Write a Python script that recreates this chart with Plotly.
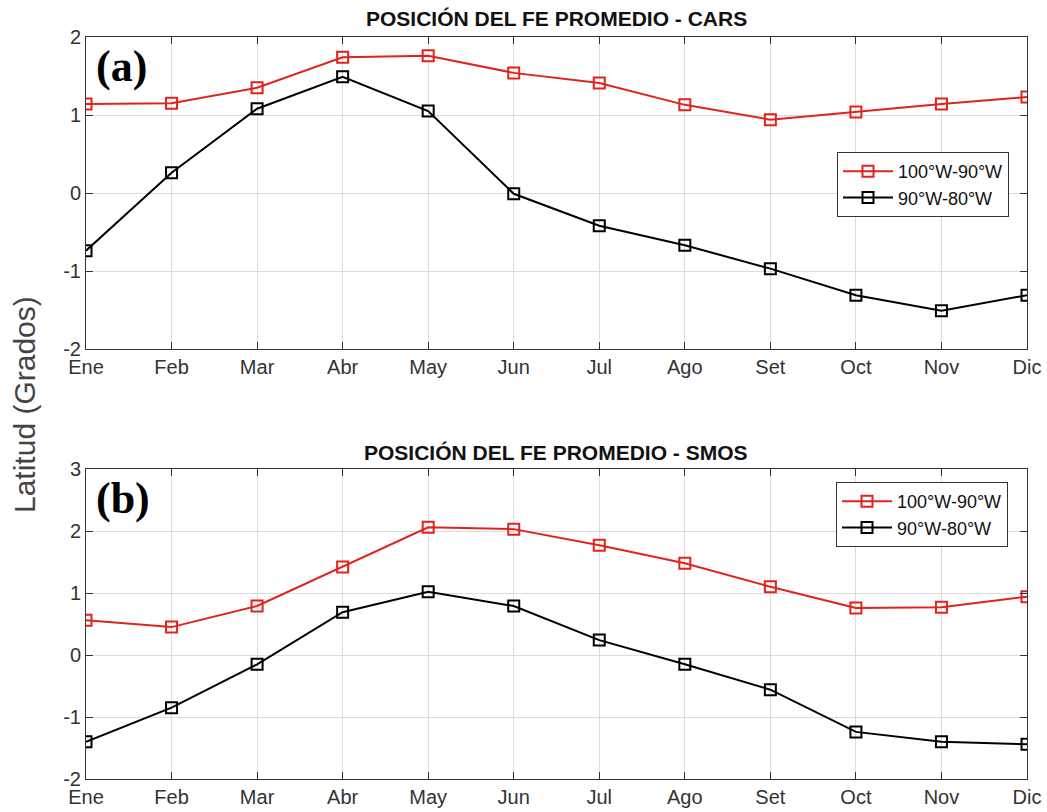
import plotly.graph_objects as go

# Meses y posiciones promedio del FE (grados de latitud)
meses = ["Ene", "Feb", "Mar", "Abr", "May", "Jun", "Jul", "Ago", "Set", "Oct", "Nov", "Dic"]

cars_100_90 = [1.14, 1.15, 1.35, 1.74, 1.76, 1.54, 1.41, 1.13, 0.94, 1.04, 1.14, 1.23]
cars_90_80 = [-0.74, 0.26, 1.08, 1.49, 1.05, -0.01, -0.42, -0.67, -0.97, -1.31, -1.51, -1.31]

smos_100_90 = [0.56, 0.45, 0.79, 1.42, 2.06, 2.03, 1.77, 1.48, 1.10, 0.76, 0.77, 0.94]
smos_90_80 = [-1.40, -0.85, -0.15, 0.69, 1.02, 0.79, 0.24, -0.15, -0.56, -1.24, -1.40, -1.44]

ticks_cars = [-2, -1, 0, 1, 2]
ticks_smos = [-2, -1, 0, 1, 2, 3]

ROJO = "#e0231c"
NEGRO = "#000000"
FUENTE = "Liberation Sans, Arial, sans-serif"

W, H = 1047, 812


def fx(v):
    return v / W


def fy(v):
    return 1 - v / H


fig = go.Figure()


def agregar(y, nombre, color, xa, ya, leyenda):
    fig.add_trace(go.Scatter(
        x=list(range(12)), y=y, name=nombre, mode="lines+markers",
        line=dict(color=color, width=2),
        marker=dict(symbol="square-open", size=11, color=color, line=dict(width=2)),
        xaxis=xa, yaxis=ya, legend=leyenda,
    ))


agregar(cars_100_90, "100°W-90°W", ROJO, "x", "y", "legend")
agregar(cars_90_80, "90°W-80°W", NEGRO, "x", "y", "legend")
agregar(smos_100_90, "100°W-90°W", ROJO, "x2", "y2", "legend2")
agregar(smos_90_80, "90°W-80°W", NEGRO, "x2", "y2", "legend2")

xdom = [fx(86), fx(1027)]

eje_x = dict(
    domain=xdom, range=[0, 11], tickmode="array", tickvals=list(range(12)), ticktext=meses,
    showgrid=True, gridcolor="#dcdcdc", gridwidth=1, zeroline=False,
    showline=True, linecolor="#333333", linewidth=1, mirror="allticks",
    ticks="inside", ticklen=7, tickcolor="#333333",
    tickfont=dict(family=FUENTE, size=20, color="#333333"), automargin=False,
)
eje_y = dict(
    showgrid=True, gridcolor="#dcdcdc", gridwidth=1, zeroline=False,
    showline=True, linecolor="#333333", linewidth=1, mirror="allticks",
    ticks="inside", ticklen=7, tickcolor="#333333", tickmode="array",
    tickfont=dict(family=FUENTE, size=20, color="#333333"), automargin=False,
)

leyenda = dict(
    xanchor="right", yanchor="top",
    bgcolor="white", bordercolor="#333333", borderwidth=1,
    font=dict(family=FUENTE, size=18, color="#111111"),
    itemwidth=50, tracegroupgap=0,
)

fig.update_layout(
    width=W, height=H,
    margin=dict(l=0, r=0, t=0, b=0),
    paper_bgcolor="white", plot_bgcolor="white",
    font=dict(family=FUENTE),
    xaxis=dict(eje_x, anchor="y"),
    yaxis=dict(eje_y, domain=[fy(349), fy(37)], range=[-2, 2], anchor="x",
               tickvals=ticks_cars, ticktext=[str(t) for t in ticks_cars]),
    xaxis2=dict(eje_x, anchor="y2"),
    yaxis2=dict(eje_y, domain=[fy(779), fy(469)], range=[-2, 3], anchor="x2",
                tickvals=ticks_smos, ticktext=[str(t) for t in ticks_smos]),
    legend=dict(leyenda, x=fx(1009), y=fy(152)),
    legend2=dict(leyenda, x=fx(1008), y=fy(482)),
    showlegend=True,
)

fig.add_annotation(text="<b>POSICIÓN DEL FE PROMEDIO - CARS</b>", xref="paper", yref="paper",
                   x=(xdom[0] + xdom[1]) / 2, y=fy(18), yanchor="middle", showarrow=False,
                   font=dict(family=FUENTE, size=21, color="#111111"))
fig.add_annotation(text="<b>POSICIÓN DEL FE PROMEDIO - SMOS</b>", xref="paper", yref="paper",
                   x=(xdom[0] + xdom[1]) / 2, y=fy(452), yanchor="middle", showarrow=False,
                   font=dict(family=FUENTE, size=21, color="#111111"))
fig.add_annotation(text="<b>(a)</b>", xref="paper", yref="paper",
                   x=fx(94), y=fy(67), xanchor="left", yanchor="middle", showarrow=False,
                   font=dict(family="Liberation Serif, Times New Roman, serif", size=44, color="black"))
fig.add_annotation(text="<b>(b)</b>", xref="paper", yref="paper",
                   x=fx(94), y=fy(498), xanchor="left", yanchor="middle", showarrow=False,
                   font=dict(family="Liberation Serif, Times New Roman, serif", size=44, color="black"))
fig.add_annotation(text="Latitud (Grados)", xref="paper", yref="paper",
                   x=fx(24), y=fy(405), textangle=-90, xanchor="center", yanchor="middle",
                   showarrow=False, font=dict(family=FUENTE, size=30, color="#444444"))

# sin margen del body para que la figura ocupe exactamente la ventana
fig.write_html(
    "out.html",
    config={"displayModeBar": False},
    post_script="document.body.style.margin='0';document.body.style.overflow='hidden';",
)
